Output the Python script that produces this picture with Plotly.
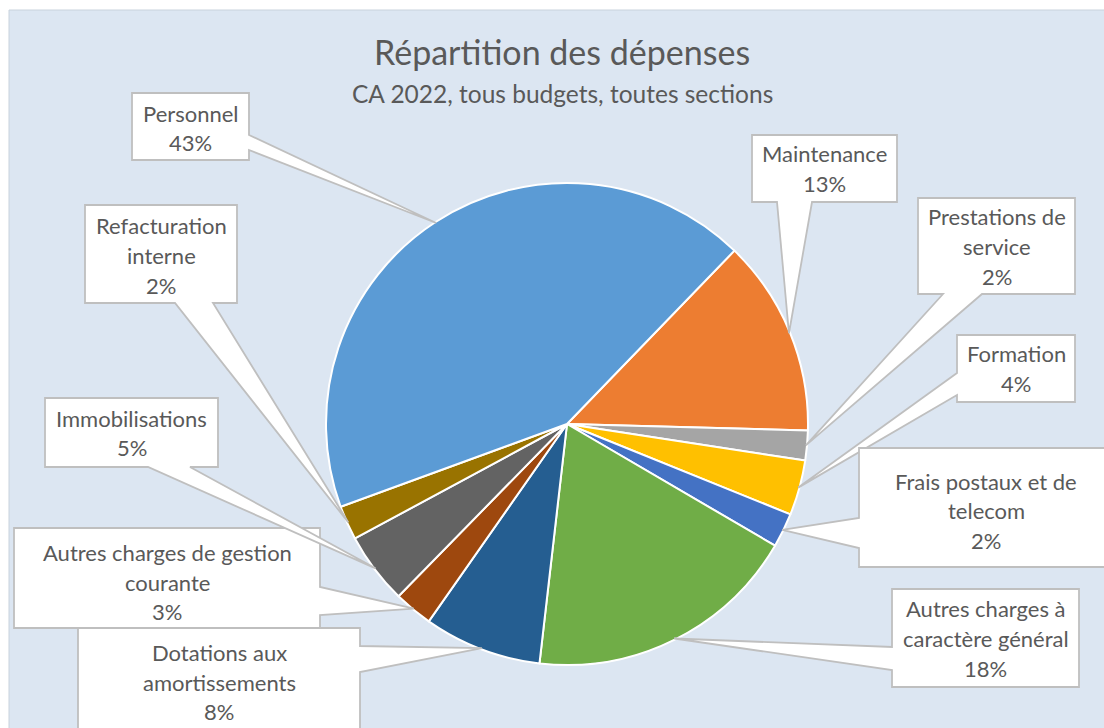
import math
import plotly.graph_objects as go

# ---------------- data ----------------
categories = [
    "Maintenance", "Prestations de service", "Formation", "Frais postaux et de telecom",
    "Autres charges à caractère général", "Dotations aux amortissements",
    "Autres charges de gestion courante", "Immobilisations", "Refacturation interne", "Personnel",
]
values = [13.2, 2.0, 3.7, 2.3, 18.4, 7.9, 2.6, 4.8, 2.3, 42.8]
label_lines = [
    ["Maintenance"], ["Prestations de", "service"], ["Formation"], ["Frais postaux et de", "telecom"],
    ["Autres charges à", "caractère général"], ["Dotations aux", "amortissements"],
    ["Autres charges de gestion", "courante"], ["Immobilisations"], ["Refacturation", "interne"], ["Personnel"],
]
colors = ["#ED7D31", "#A5A5A5", "#FFC000", "#4472C4", "#70AD47",
          "#255E91", "#9E480E", "#636363", "#997300", "#5B9BD5"]
title_text = "Répartition des dépenses"
subtitle_text = "CA 2022, tous budgets, toutes sections"

# ---------------- layout geometry (pixels) ----------------
W, H = 1104, 728
cx, cy, R = 567, 424, 241
rotation = 44
FONT = "Lato, Carlito, sans-serif"

# callout boxes: (x0, y0, x1, y1), side where wedge attaches, wedge base span
callouts = [
    dict(box=(752, 135, 897, 202), side="bottom", base=(777, 812)),      # Maintenance
    dict(box=(918, 198, 1075, 294), side="bottom", base=(943, 982)),     # Prestations
    dict(box=(957, 335, 1075, 402), side="left", base=(373, 395)),       # Formation
    dict(box=(859, 448, 1112, 567), side="left", base=(518, 548)),       # Frais postaux
    dict(box=(892, 589, 1079, 687), side="left", base=(647, 670)),       # Autres charges CG
    dict(box=(78, 628, 360, 740), side="right", base=(646, 672)),        # Dotations
    dict(box=(14, 528, 320, 628), side="right", base=(587, 615)),        # Autres gestion
    dict(box=(45, 398, 218, 467), side="bottom", base=(148, 190)),       # Immobilisations
    dict(box=(85, 205, 237, 303), side="bottom", base=(175, 213)),       # Refacturation
    dict(box=(132, 93, 249, 160), side="right", base=(135, 150)),        # Personnel
]
text_centers_y = [168.5, 246.5, 368.5, 511, 638.5, 682, 582, 433, 255.5, 128]


def px(x):
    return x / W


def py(y):
    return 1 - y / H


total = sum(values)

fig = go.Figure()
fig.add_trace(go.Pie(
    labels=categories,
    values=values,
    sort=False,
    direction="clockwise",
    rotation=rotation,
    marker=dict(colors=colors, line=dict(color="white", width=2)),
    textinfo="none",
    hoverinfo="label+percent",
    showlegend=False,
    domain=dict(x=[px(cx - R), px(cx + R)], y=[py(cy + R), py(cy - R)]),
))

shapes = [
    dict(type="rect", xref="paper", yref="paper",
         x0=px(9), y0=py(10), x1=px(1130), y1=py(760),
         fillcolor="#DCE6F2", line=dict(color="#C8D2DC", width=1), layer="below"),
]
annotations = []

cum = 0.0
for i, v in enumerate(values):
    mid = math.radians(rotation + 360.0 * (cum + v / 2) / total)
    cum += v
    tx = cx + R * 0.995 * math.sin(mid)
    ty = cy - R * 0.995 * math.cos(mid)
    c = callouts[i]
    x0, y0, x1, y1 = c["box"]
    b0, b1 = c["base"]
    side = c["side"]
    pts = [(x0, y0)]
    if side == "top":
        pts += [(b0, y0), (tx, ty), (b1, y0)]
    pts.append((x1, y0))
    if side == "right":
        pts += [(x1, b0), (tx, ty), (x1, b1)]
    pts.append((x1, y1))
    if side == "bottom":
        pts += [(b1, y1), (tx, ty), (b0, y1)]
    pts.append((x0, y1))
    if side == "left":
        pts += [(x0, b1), (tx, ty), (x0, b0)]
    path = "M " + " L ".join(f"{px(a):.5f},{py(b):.5f}" for a, b in pts) + " Z"
    shapes.append(dict(type="path", xref="paper", yref="paper", path=path,
                       fillcolor="white", line=dict(color="#BFBFBF", width=1.8)))

    lines = label_lines[i] + [f"{round(v / total * 100)}%"]
    bx = (x0 + min(x1, W)) / 2 if i != 3 else 986
    by = text_centers_y[i]
    n = len(lines)
    for k, t in enumerate(lines):
        ly = by + (k - (n - 1) / 2) * 29.6
        annotations.append(dict(x=px(bx), y=py(ly), xref="paper", yref="paper",
                                text=t, showarrow=False, xanchor="center", yanchor="middle",
                                font=dict(family=FONT, size=22, color="#595959")))

annotations.append(dict(x=px(562), y=py(52), xref="paper", yref="paper", text=title_text,
                        showarrow=False, xanchor="center", yanchor="middle",
                        font=dict(family=FONT, size=34, color="#595959")))
annotations.append(dict(x=px(562), y=py(93), xref="paper", yref="paper", text=subtitle_text,
                        showarrow=False, xanchor="center", yanchor="middle",
                        font=dict(family=FONT, size=24.5, color="#595959")))

fig.update_layout(
    width=W, height=H, autosize=False,
    margin=dict(l=0, r=0, t=0, b=0),
    paper_bgcolor="white", plot_bgcolor="white",
    shapes=shapes, annotations=annotations,
)

fig.write_html(
    "out.html",
    config={"displayModeBar": False},
    post_script="document.body.style.margin='0';document.body.style.overflow='hidden';",
)
